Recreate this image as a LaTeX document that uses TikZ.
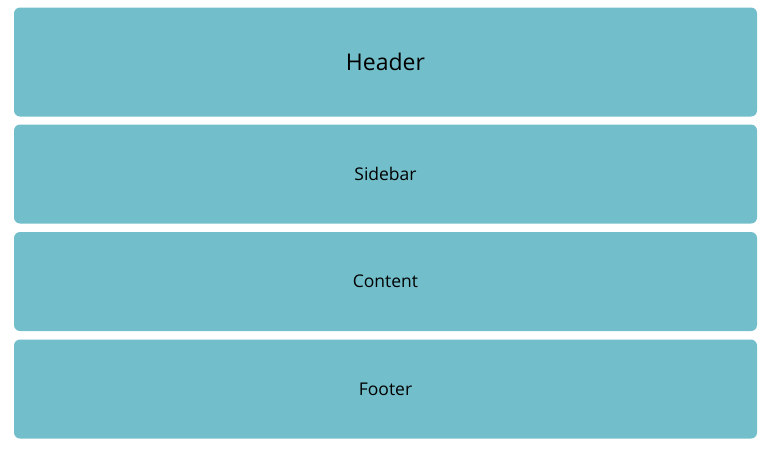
\documentclass[tikz,border=0pt]{standalone}
\usepackage{fontspec}
\setmainfont{Open Sans}
\usepackage{tikz}
\usetikzlibrary{positioning}
\definecolor{panelblue}{HTML}{72BFCB}
\tikzstyle{panel}=[fill=panelblue, draw=none, rounded corners=6pt, minimum width=743pt, inner sep=0pt, text=black]

\begin{document}
\begin{tikzpicture}[x=1pt,y=-1pt]
\useasboundingbox (0,0) rectangle (768,448);
\node[panel, minimum height=109pt, font=\fontsize{23}{26}\selectfont] (header) at (385.5,62){Header};
\node[panel, minimum height=99pt, font=\fontsize{17.5}{20}\selectfont] (sidebar) at (385.5,174){Sidebar};
\node[panel, minimum height=99pt, font=\fontsize{17.5}{20}\selectfont] (content) at (385.5,281.5){Content};
\node[panel, minimum height=99pt, font=\fontsize{17.5}{20}\selectfont] (footer) at (385.5,389){Footer};
\end{tikzpicture}
\end{document}
